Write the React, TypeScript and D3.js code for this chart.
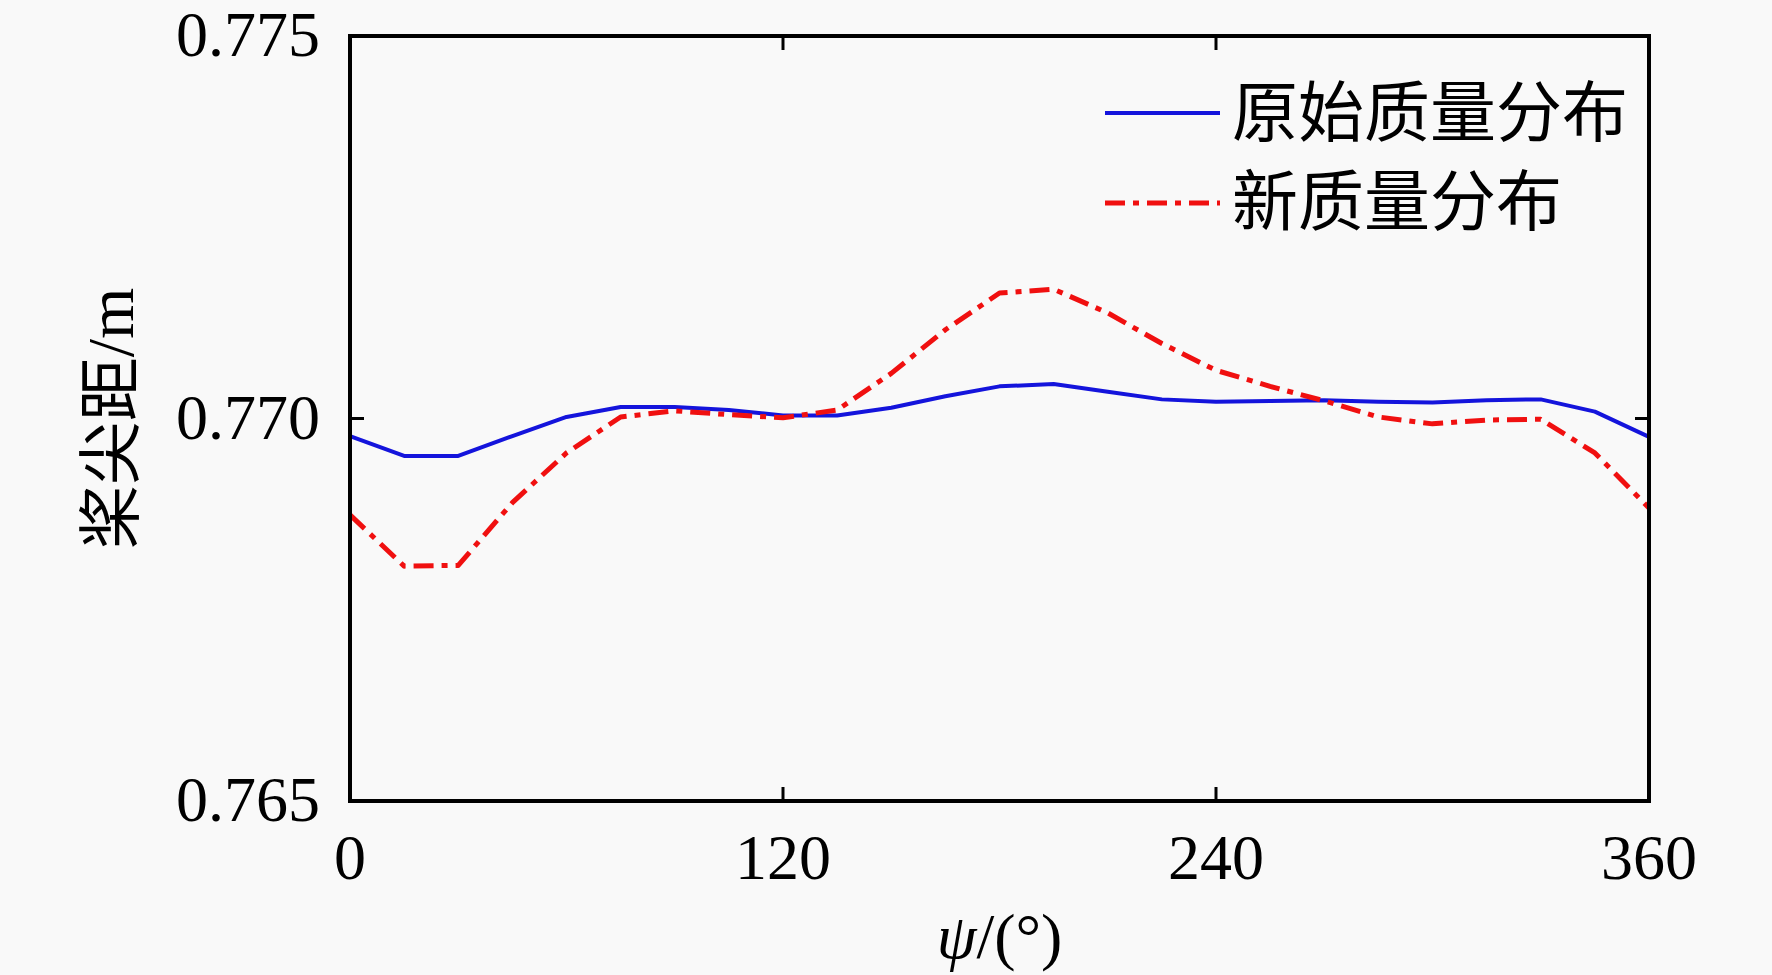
import React from "react";
import * as d3 from "d3";

const angles = [0, 15, 30, 45, 60, 75, 90, 105, 120, 135, 150, 165, 180, 195, 210, 225, 240, 255, 270, 285, 300, 315, 330, 345, 360];
const originalMass = [0.76977, 0.76951, 0.76951, 0.76977, 0.77002, 0.77015, 0.77015, 0.77011, 0.77004, 0.77004, 0.77014, 0.77029, 0.77042, 0.77045, 0.77035, 0.77025, 0.77022, 0.77023, 0.77024, 0.77022, 0.77021, 0.77024, 0.77025, 0.77009, 0.76976];
const newMass = [0.76874, 0.76807, 0.76808, 0.7689, 0.76955, 0.77002, 0.7701, 0.77005, 0.77001, 0.77011, 0.77059, 0.77116, 0.77164, 0.77169, 0.77138, 0.77098, 0.77063, 0.77042, 0.77023, 0.77002, 0.76993, 0.76998, 0.76999, 0.76955, 0.76883];
const xTicks = [0, 120, 240, 360];
const yTicks = [0.765, 0.77, 0.775];
const seriesNames = ["原始质量分布", "新质量分布"];

const W = 1772, H = 975;
const L = 350, R = 1649, T = 36, B = 801;
const serif = "'Liberation Serif', 'Times New Roman', serif";
const cjk = "'Noto Sans CJK SC', sans-serif";
const blue = "#1414dc";
const red = "#f01010";
const dash = "20,8,6,8";

export default function App() {
  const x = d3.scaleLinear().domain([0, 360]).range([L, R]);
  const y = d3.scaleLinear().domain([0.765, 0.775]).range([B, T]);
  const line = d3.line<number>().x((_, i) => x(angles[i])).y((d) => y(d));
  const tick = 14;
  return (
    <svg width={W} height={H} style={{ position: "absolute", left: 0, top: 0, background: "#f9f9f9" }}>
      <rect x={0} y={0} width={W} height={H} fill="#f9f9f9" />
      <path d={line(originalMass) || ""} fill="none" stroke={blue} strokeWidth={4} strokeLinejoin="round" />
      <path d={line(newMass) || ""} fill="none" stroke={red} strokeWidth={5} strokeDasharray={dash} strokeLinejoin="round" />
      {xTicks.slice(1, -1).map((t) => (
        <g key={"xt" + t}>
          <line x1={x(t)} x2={x(t)} y1={B} y2={B - tick} stroke="#000" strokeWidth={3} />
          <line x1={x(t)} x2={x(t)} y1={T} y2={T + tick} stroke="#000" strokeWidth={3} />
        </g>
      ))}
      {yTicks.slice(1, -1).map((t) => (
        <g key={"yt" + t}>
          <line x1={L} x2={L + tick} y1={y(t)} y2={y(t)} stroke="#000" strokeWidth={3} />
          <line x1={R} x2={R - tick} y1={y(t)} y2={y(t)} stroke="#000" strokeWidth={3} />
        </g>
      ))}
      <rect x={L} y={T} width={R - L} height={B - T} fill="none" stroke="#000" strokeWidth={4} />
      {xTicks.map((t) => (
        <text key={"xl" + t} x={x(t)} y={B + 78} textAnchor="middle" fontFamily={serif} fontSize={64} fill="#000">
          {t}
        </text>
      ))}
      {yTicks.map((t) => (
        <text key={"yl" + t} x={L - 30} y={y(t) + 20} textAnchor="end" fontFamily={serif} fontSize={64} fill="#000">
          {d3.format(".3f")(t)}
        </text>
      ))}
      <text x={(L + R) / 2} y={958} textAnchor="middle" fontFamily={serif} fontSize={64} fill="#000">
        <tspan fontStyle="italic">ψ</tspan>/(°)
      </text>
      <text transform={`translate(133, ${y(0.77)}) rotate(-90)`} textAnchor="middle" fontSize={64} fill="#000">
        <tspan fontFamily={cjk}>桨尖距</tspan>
        <tspan fontFamily={serif} fontSize={66}>/m</tspan>
      </text>
      <line x1={1105} x2={1220} y1={113} y2={113} stroke={blue} strokeWidth={4} />
      <text x={1232} y={136} fontFamily={cjk} fontSize={66} fill="#000">{seriesNames[0]}</text>
      <line x1={1105} x2={1220} y1={203} y2={203} stroke={red} strokeWidth={5} strokeDasharray={dash} />
      <text x={1232} y={225} fontFamily={cjk} fontSize={66} fill="#000">{seriesNames[1]}</text>
    </svg>
  );
}
